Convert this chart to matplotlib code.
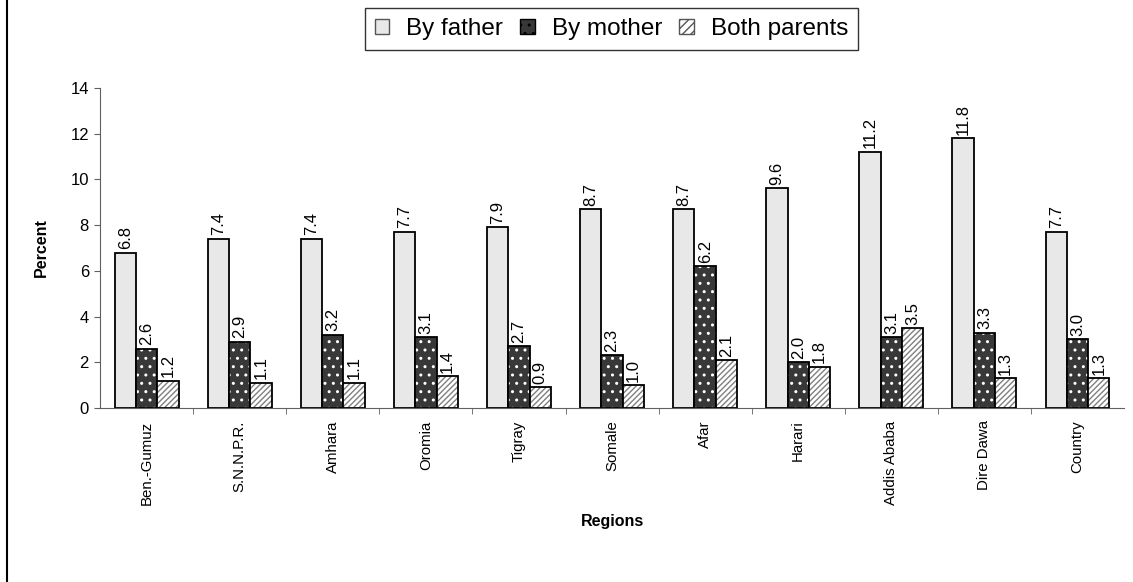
import numpy as np
import matplotlib.pyplot as plt
from matplotlib.patches import Patch
from matplotlib.lines import Line2D

plt.rcParams['font.family'] = ['Liberation Sans', 'DejaVu Sans']

# Datos
regiones = ["Ben.-Gumuz", "S.N.N.P.R.", "Amhara", "Oromia", "Tigray", "Somale",
            "Afar", "Harari", "Addis Ababa", "Dire Dawa", "Country"]
por_padre = [6.8, 7.4, 7.4, 7.7, 7.9, 8.7, 8.7, 9.6, 11.2, 11.8, 7.7]
por_madre = [2.6, 2.9, 3.2, 3.1, 2.7, 2.3, 6.2, 2.0, 3.1, 3.3, 3.0]
ambos = [1.2, 1.1, 1.1, 1.4, 0.9, 1.0, 2.1, 1.8, 3.5, 1.3, 1.3]

series = ["By father", "By mother", "Both parents"]

fig = plt.figure(figsize=(11.33, 5.82), dpi=100)
ax = fig.add_axes([0.0883, 0.299, 0.9038, 0.55])

x = np.arange(len(regiones))
ancho = 0.229
estilos = [
    dict(color="#e8e8e8", hatch="", hcolor="#d0d0d0"),
    dict(color="#383838", hatch="..", hcolor="white"),
    dict(color="white", hatch="//////", hcolor="#808080"),
]

plt.rcParams['hatch.linewidth'] = 1.0
for i, (vals, est) in enumerate(zip([por_padre, por_madre, ambos], estilos)):
    pos = x + (i - 1) * ancho
    # relleno con trama
    ax.bar(pos, vals, ancho, color=est["color"], edgecolor=est["hcolor"],
           hatch=est["hatch"], linewidth=0)
    # borde negro
    ax.bar(pos, vals, ancho, fill=False, edgecolor="black", linewidth=1.3)
    for px, v in zip(pos, vals):
        ax.text(px, v + 0.15, f"{v:.1f}", rotation=90, ha="center", va="bottom",
                fontsize=12)

ax.set_xlim(-0.5, len(regiones) - 0.5)
ax.set_ylim(0, 14)
ax.set_yticks(range(0, 15, 2))
ax.set_xticks(x)
ax.set_xticklabels(regiones, rotation=90, fontsize=10.8)
ax.tick_params(axis="x", length=0, pad=9)
ax.set_xticks(np.arange(0.5, len(regiones) - 0.5, 1), minor=True)
ax.tick_params(axis="x", which="minor", length=4, color="#606060")
ax.tick_params(axis="y", labelsize=12, length=4, pad=4, color="#606060")

for s in ["top", "right"]:
    ax.spines[s].set_visible(False)
for s in ["left", "bottom"]:
    ax.spines[s].set_color("#606060")

ax.set_ylabel("Percent", fontsize=11.5, fontweight="bold")
ax.yaxis.set_label_coords(-0.05, 0.5)
ax.set_xlabel("Regions", fontsize=11.5, fontweight="bold")
ax.xaxis.set_label_coords(0.5, -0.33)

# Leyenda
manijas = [
    Patch(facecolor="#e8e8e8", edgecolor="#555555", label=series[0]),
    Patch(facecolor="#383838", edgecolor="black", hatch="..", label=series[1]),
    Patch(facecolor="white", edgecolor="#555555", hatch="////", label=series[2]),
]
ley = fig.legend(handles=manijas, loc="center", bbox_to_anchor=(0.5397, 0.950),
                 ncol=3, fontsize=17.5, frameon=True, fancybox=False,
                 handlelength=0.6, handleheight=0.6, handletextpad=0.7,
                 columnspacing=0.7, borderpad=0.4)
ley.get_frame().set_edgecolor("black")
ley.get_frame().set_linewidth(1.0)

# Linea del marco exterior (solo a la izquierda)
fig.add_artist(Line2D([7 / 1133, 7 / 1133], [0, 1], transform=fig.transFigure,
                      color="black", linewidth=1.5))

fig.savefig("out.png", dpi=100)
